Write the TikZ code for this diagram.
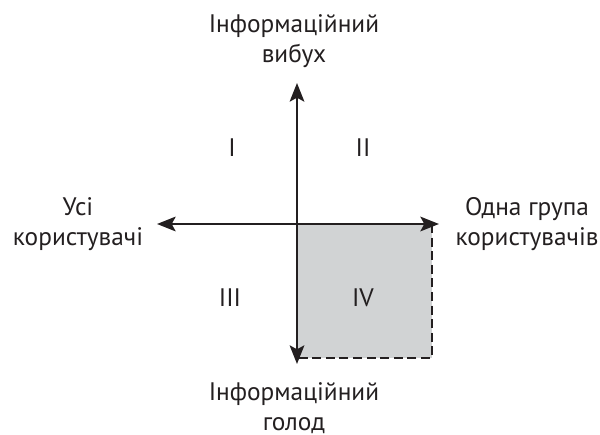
\documentclass[tikz,border=0pt]{standalone}
\usepackage{fontspec}
\setmainfont{PT Sans}
\usetikzlibrary{arrows.meta}
\definecolor{ink}{HTML}{231F20}
\definecolor{boxgray}{HTML}{D1D3D4}
\begin{document}
\begin{tikzpicture}[x=0.75pt,y=-0.75pt,
  lbl/.style={text=ink,font=\fontsize{19}{22.5}\selectfont,align=center,inner sep=0pt,anchor=base},
  quad/.style={text=ink,font=\fontsize{19}{22.5}\selectfont,inner sep=0pt},
  axis/.style={draw=ink,line width=1.6pt,{Stealth[length=14pt,width=11pt,inset=3pt]}-{Stealth[length=14pt,width=11pt,inset=3pt]}},
  dashline/.style={draw=ink,line width=1.8pt,dash pattern=on 6.8pt off 3.4pt}]
\useasboundingbox (0,0) rectangle (600,435);
\coordinate (O) at (297,224);
\coordinate (T) at (297,83);
\coordinate (B) at (297,364);
\coordinate (L) at (157,224);
\coordinate (R) at (439,224);
\coordinate (C) at (432,358);
\fill[boxgray] (O) rectangle (C);
\draw[dashline] (O -| C) -- (C) -- (C -| O);
\draw[axis] (L) -- (R);
\draw[axis] (B) -- (T);
\node[quad] (q1) at (232,148) {I};
\node[quad] (q2) at (363,148) {II};
\node[quad] (q3) at (230,298) {III};
\node[quad] (q4) at (363,298) {IV};
\node[lbl] (top) at (294,63) {Інформаційний\\вибух};
\node[lbl] (bot) at (294,430) {Інформаційний\\голод};
\node[lbl] (left) at (78,245) {Усі\\користувачі};
\node[lbl] (right) at (527,245) {Одна група\\користувачів};
\end{tikzpicture}
\end{document}
